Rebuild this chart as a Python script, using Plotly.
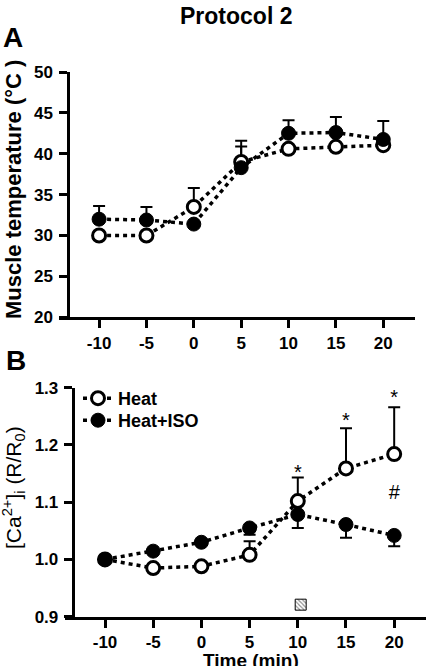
import plotly.graph_objects as go

# ---------------- data ----------------
times = [-10, -5, 0, 5, 10, 15, 20]

# Panel A: muscle temperature (°C)
a_heat = [30.0, 30.0, 33.5, 39.0, 40.6, 40.85, 41.05]
a_heat_err_up = [0, 0, 2.3, 2.6, 0, 0, 0]
a_iso = [32.0, 31.9, 31.4, 38.3, 42.5, 42.6, 41.75]
a_iso_err_up = [1.6, 1.6, 0, 2.6, 1.6, 1.9, 2.25]

# Panel B: [Ca2+]i (R/R0)
b_heat = [1.0, 0.985, 0.988, 1.008, 1.102, 1.159, 1.184]
b_heat_err_up = [0, 0, 0, 0.024, 0.041, 0.070, 0.082]
b_iso = [1.0, 1.0145, 1.030, 1.055, 1.0785, 1.061, 1.042]
b_iso_err_dn = [0, 0, 0, 0.012, 0.0235, 0.023, 0.019]

x_ticklabels = ["-10", "-5", "0", "5", "10", "15", "20"]
a_yticks = [20, 25, 30, 35, 40, 45, 50]
b_yticks = [0.9, 1.0, 1.1, 1.2, 1.3]
b_yticklabels = ["0.9", "1.0", "1.1", "1.2", "1.3"]

star_x = [10, 15, 20]
star_y = [1.150, 1.240, 1.281]
hash_x = [20]
hash_y = [1.114]
hatch_x = [10.3]
hatch_y = [0.921]

FONT = "Liberation Sans, Arial, sans-serif"
BOLD = dict(family=FONT, weight="bold", color="black")

fig = go.Figure()

def err_trace(x, y, up, dn, xa, ya):
    return go.Scatter(
        x=x, y=y, mode="markers", xaxis=xa, yaxis=ya, showlegend=False,
        marker=dict(size=1, color="rgba(0,0,0,0)"),
        error_y=dict(type="data", symmetric=False, array=up, arrayminus=dn,
                     color="black", thickness=2, width=6),
        hoverinfo="skip")

zeros = [0] * len(times)
LINE = dict(color="black", width=3.5, dash="4px,4px")
OPEN = dict(symbol="circle", size=13, color="white", line=dict(color="black", width=3))
FILL = dict(symbol="circle", size=14, color="black", line=dict(color="black", width=1))

# Panel A
fig.add_trace(err_trace(times, a_heat, a_heat_err_up, zeros, "x", "y"))
fig.add_trace(err_trace(times, a_iso, a_iso_err_up, zeros, "x", "y"))
fig.add_trace(go.Scatter(x=times, y=a_heat, mode="lines+markers", line=LINE, marker=OPEN,
                         xaxis="x", yaxis="y", showlegend=False))
fig.add_trace(go.Scatter(x=times, y=a_iso, mode="lines+markers", line=LINE, marker=FILL,
                         xaxis="x", yaxis="y", showlegend=False))

# Panel B
fig.add_trace(err_trace(times, b_heat, b_heat_err_up, zeros, "x2", "y2"))
fig.add_trace(err_trace(times, b_iso, zeros, b_iso_err_dn, "x2", "y2"))
fig.add_trace(go.Scatter(x=times, y=b_heat, mode="lines+markers", line=LINE, marker=OPEN,
                         xaxis="x2", yaxis="y2", name="Heat", legend="legend"))
fig.add_trace(go.Scatter(x=times, y=b_iso, mode="lines+markers", line=LINE, marker=FILL,
                         xaxis="x2", yaxis="y2", name="Heat+ISO", legend="legend2"))

# hatched marker
fig.add_trace(go.Bar(x=hatch_x, y=[0.0192], base=[hatch_y[0] - 0.0096], width=[1.14],
                     xaxis="x2", yaxis="y2", showlegend=False,
                     marker=dict(color="white", line=dict(color="black", width=1),
                                 pattern=dict(shape="\\", fgcolor="black", bgcolor="white",
                                              size=3, solidity=0.35))))

# significance marks
fig.add_trace(go.Scatter(x=star_x, y=star_y, mode="text", text=["*"] * len(star_x),
                         textfont=dict(family=FONT, size=20, color="black"),
                         textposition="middle center", xaxis="x2", yaxis="y2",
                         showlegend=False))
fig.add_trace(go.Scatter(x=hash_x, y=hash_y, mode="text", text=["#"] * len(hash_x),
                         textfont=dict(family=FONT, size=20, color="black"),
                         textposition="middle center", xaxis="x2", yaxis="y2",
                         showlegend=False))

W, H = 442, 666
def px(x):
    return x / W
def py(y):
    return (H - y) / H

def bold(labels):
    return ["<b>%s</b>" % t for t in labels]

axis_common = dict(showline=True, linewidth=3, linecolor="black", ticks="outside",
                   ticklen=8, tickwidth=3, tickcolor="black", showgrid=False,
                   zeroline=False, automargin=False, tickfont=dict(size=17, **BOLD))

legend_common = dict(x=px(78), xanchor="left", yanchor="top",
                     font=dict(size=18, **BOLD), bgcolor="rgba(0,0,0,0)", itemwidth=30)

def ann(text, x, y, size, bold_font=True, angle=0):
    f = dict(size=size, **BOLD) if bold_font else dict(family=FONT, size=size, color="black")
    return dict(text=text, x=px(x), y=py(y), xref="paper", yref="paper",
                xanchor="center", yanchor="middle", showarrow=False,
                textangle=angle, font=f)

fig.update_layout(
    width=W, height=H,
    margin=dict(l=0, r=0, t=0, b=0, pad=0, autoexpand=False),
    paper_bgcolor="white", plot_bgcolor="white",
    xaxis=dict(domain=[px(59.3), px(415)], range=[-14.2, 23.35], anchor="y",
               tickvals=times, ticktext=bold(x_ticklabels), **axis_common),
    yaxis=dict(domain=[py(317.3), py(72)], range=[20, 50], anchor="free",
               position=px(68.3), tickvals=a_yticks, ticklabelstandoff=3,
               ticktext=bold([str(v) for v in a_yticks]), **axis_common),
    xaxis2=dict(domain=[px(65), px(426)], range=[-14.15, 23.3], anchor="y2",
                tickvals=times, ticktext=bold(x_ticklabels), **axis_common),
    yaxis2=dict(domain=[py(616.7), py(387.7)], range=[0.9, 1.3], anchor="free",
                position=px(72.7), tickvals=b_yticks, ticklabelstandoff=2,
                ticktext=bold(b_yticklabels), **axis_common),
    legend=dict(y=py(380), **legend_common),
    legend2=dict(y=py(402), **legend_common),
    showlegend=True,
    annotations=[
        ann("<b>Protocol 2</b>", 236, 16, 23),
        ann("<b>A</b>", 13, 37, 28),
        ann("<b>B</b>", 16, 360, 28),
        ann("<b>Muscle temperature (°C )</b>", 13, 190, 22, angle=-90),
        ann("[Ca<sup>2+</sup>]<sub>i</sub> (R/R<sub>0</sub>)", 14, 488, 21,
            bold_font=False, angle=-90),
        ann("<b>Time (min)</b>", 251, 660, 19),
    ],
)

fig.write_html("out.html")
